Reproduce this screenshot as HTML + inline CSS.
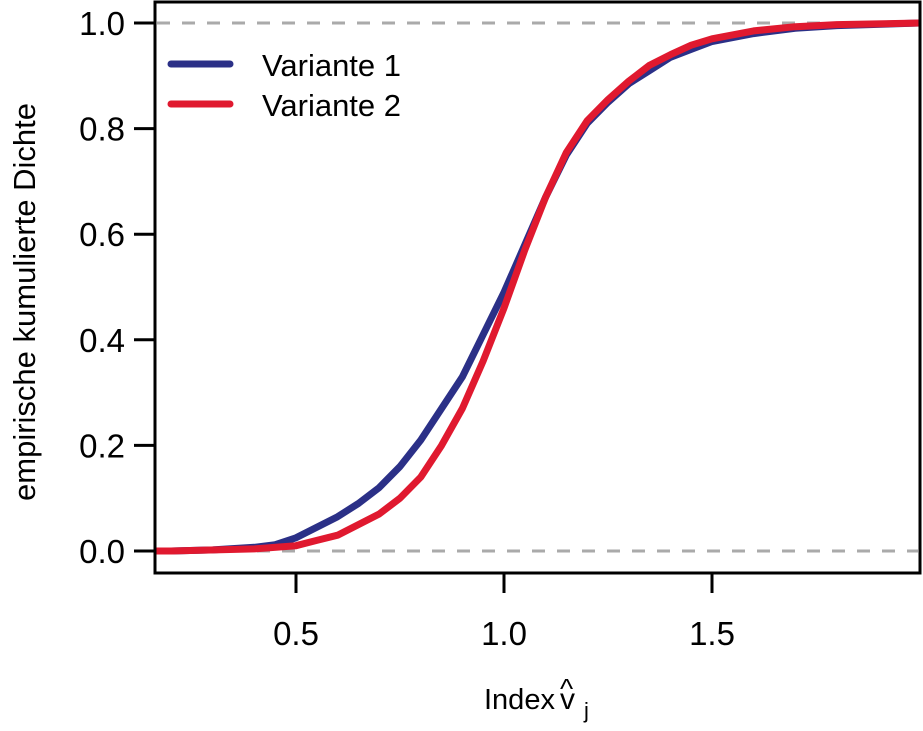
<!DOCTYPE html>
<html><head><meta charset="utf-8"><style>
body{margin:0;background:#fff}
svg text{font-family:"Liberation Sans",Arial,sans-serif;fill:#000}
</style></head><body>
<svg width="923" height="726" viewBox="0 0 923 726">
<g id="plot"></g>
</svg>
<script>
const xsB=[0.16,0.2,0.3,0.4,0.45,0.5,0.55,0.6,0.65,0.7,0.75,0.8,0.85,0.9,0.95,1.0,1.05,1.1,1.15,1.2,1.25,1.3,1.35,1.4,1.45,1.5,1.6,1.7,1.8,2.0];
const ysB=[0,0,0.002,0.007,0.012,0.025,0.045,0.065,0.09,0.12,0.16,0.21,0.27,0.33,0.41,0.49,0.58,0.67,0.75,0.81,0.85,0.885,0.91,0.935,0.95,0.965,0.98,0.99,0.995,1.0];
const xsR=[0.16,0.2,0.4,0.5,0.55,0.6,0.65,0.7,0.75,0.8,0.85,0.9,0.95,1.0,1.05,1.1,1.15,1.2,1.25,1.3,1.35,1.4,1.45,1.5,1.6,1.7,1.8,2.0];
const ysR=[0,0,0.004,0.01,0.02,0.03,0.05,0.07,0.1,0.14,0.2,0.27,0.36,0.46,0.57,0.67,0.755,0.815,0.855,0.89,0.92,0.94,0.958,0.97,0.985,0.993,0.997,1.0];
const xTicks=[0.5,1.0,1.5];
const yTicks=[0,0.2,0.4,0.6,0.8,1.0];
const seriesNames=["Variante 1","Variante 2"];
const colors=["#2b3087","#e0192f"];
const X=v=>296+(v-0.5)*416, Y=v=>551-v*528;
const g=document.getElementById('plot');
const NS='http://www.w3.org/2000/svg';
function mk(t,a,txt,st){const e=document.createElementNS(NS,t);for(const k in a)e.setAttribute(k,a[k]);if(st)e.setAttribute('style',st);if(txt!=null)e.textContent=txt;g.appendChild(e);return e;}
[0,1].forEach(v=>{const l=mk('line',{x1:157,x2:918,y1:Y(v),y2:Y(v)},null,'stroke:#aaa;stroke-width:3px;stroke-dasharray:13px 12px');

});
[[xsB,ysB],[xsR,ysR]].forEach((s,i)=>{
 let d=s[0].map((x,j)=>(j?'L':'M')+X(x).toFixed(1)+','+Y(s[1][j]).toFixed(1)).join('');
 const p=mk('path',{d:d},null,'fill:none;stroke:'+colors[i]+';stroke-width:7px;stroke-linejoin:round');
 
 
});
const b=mk('rect',{x:155,y:2,width:765,height:571},null,'fill:none;stroke:#000;stroke-width:3px');


xTicks.forEach(v=>{
 const t=mk('line',{x1:X(v),x2:X(v),y1:573,y2:593},null,'stroke:#000;stroke-width:3px');
 
 
 const l=mk('text',{x:X(v),y:645,'text-anchor':'middle'},v.toFixed(1),'font-size:33px');
 
 
});
yTicks.forEach(v=>{
 const t=mk('line',{x1:134,x2:155,y1:Y(v),y2:Y(v)},null,'stroke:#000;stroke-width:3px');
 
 
 const l=mk('text',{x:125,y:Y(v)+12,'text-anchor':'end'},v.toFixed(1),'font-size:33px');
 
 
});
seriesNames.forEach((n,i)=>{
 const y=64+i*40;
 const l=mk('line',{x1:171,x2:230,y1:y,y2:y},null,'stroke:'+colors[i]+';stroke-width:7px;stroke-linecap:round');
 
 
 const t=mk('text',{x:262,y:y+12},n,'font-size:31px');
 
 
});
const xt=mk('text',{x:484,y:709},'Index','font-size:29px');


const v=mk('text',{x:560,y:709},'v','font-size:30px');


const hat=mk('text',{x:560,y:698},'^','font-size:28px');


const j=mk('text',{x:584,y:718},'j','font-size:22px');


const yt=mk('text',{x:0,y:0,'text-anchor':'middle',transform:'translate(35,302) rotate(-90)'},'empirische kumulierte Dichte','font-size:31px');


</script>
</body></html>
